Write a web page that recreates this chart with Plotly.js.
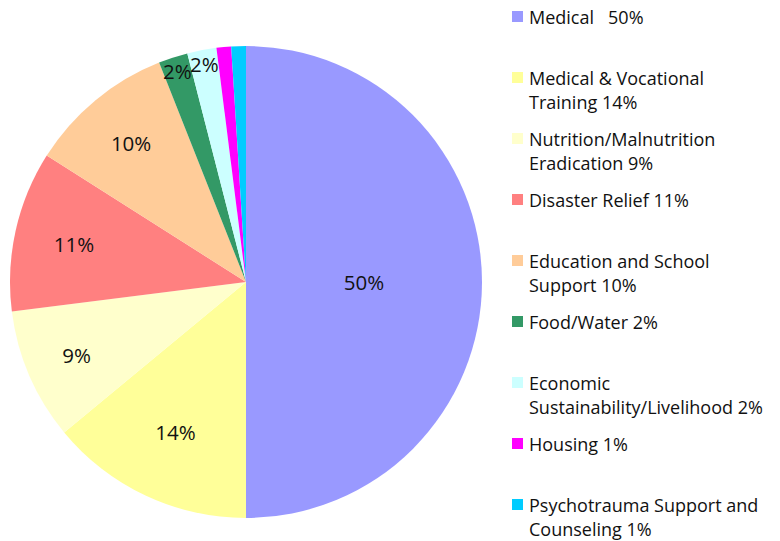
<!DOCTYPE html>
<html>
<head>
<meta charset="utf-8">
<script src="https://cdn.plot.ly/plotly-3.0.1.min.js"></script>
<style>html,body{margin:0;padding:0;background:#fff;}#chart{width:780px;height:541px;}</style>
</head>
<body>
<div id="chart"></div>
<script>
var categories = ["Medical", "Medical & Vocational Training", "Nutrition/Malnutrition Eradication", "Disaster Relief", "Education and School Support", "Food/Water", "Economic Sustainability/Livelihood", "Housing", "Psychotrauma Support and Counseling"];
var values = [50, 14, 9, 11, 10, 2, 2, 1, 1];
var sliceText = ["50%", "14%", "9%", "11%", "10%", "2%", "2%", "", ""];
var colors = ["#9999FF", "#FFFF99", "#FFFFCC", "#FF8080", "#FFCC99", "#339966", "#CCFFFF", "#FF00FF", "#00CCFF"];
var legendLines = [
  ["Medical   50%"],
  ["Medical & Vocational", "Training 14%"],
  ["Nutrition/Malnutrition", "Eradication 9%"],
  ["Disaster Relief 11%"],
  ["Education and School", "Support 10%"],
  ["Food/Water 2%"],
  ["Economic", "Sustainability/Livelihood 2%"],
  ["Housing 1%"],
  ["Psychotrauma Support and", "Counseling 1%"]
];

var W = 780, H = 541;
var FONT = "Open Sans, Liberation Sans, sans-serif";
function px(x){ return x / W; }
function py(y){ return 1 - y / H; }

var annotations = [];
var shapes = [];
var itemTop = 16.5, itemStep = 61, lineStep = 24.5;
legendLines.forEach(function(lines, i){
  var cy = itemTop + i * itemStep;
  shapes.push({type: "rect", xref: "paper", yref: "paper",
    x0: px(512), x1: px(523), y0: py(cy - 5.5), y1: py(cy + 5.5),
    fillcolor: colors[i], line: {width: 0}});
  lines.forEach(function(t, j){
    annotations.push({xref: "paper", yref: "paper", x: px(528), y: py(cy + j * lineStep),
      xanchor: "left", yanchor: "middle", showarrow: false, text: t, borderpad: 0,
      font: {family: FONT, size: 18, color: "#111"}});
  });
});

var trace = {
  type: "pie",
  labels: categories,
  values: values,
  text: sliceText,
  textinfo: "text",
  textposition: "inside",
  insidetextorientation: "horizontal",
  textfont: {family: FONT, size: 20.5, color: "#111"},
  marker: {colors: colors, line: {width: 0}},
  sort: false,
  direction: "clockwise",
  rotation: 0,
  showlegend: false,
  hoverinfo: "label+percent",
  domain: {x: [px(10), px(482)], y: [py(518), py(46)]}
};

var layout = {
  width: W, height: H,
  margin: {l: 0, r: 0, t: 0, b: 0},
  paper_bgcolor: "#fff",
  showlegend: false,
  uniformtext: {mode: "show", minsize: 20.5},
  annotations: annotations,
  shapes: shapes
};

Plotly.newPlot("chart", [trace], layout, {displayModeBar: false, staticPlot: true});
</script>
</body>
</html>
